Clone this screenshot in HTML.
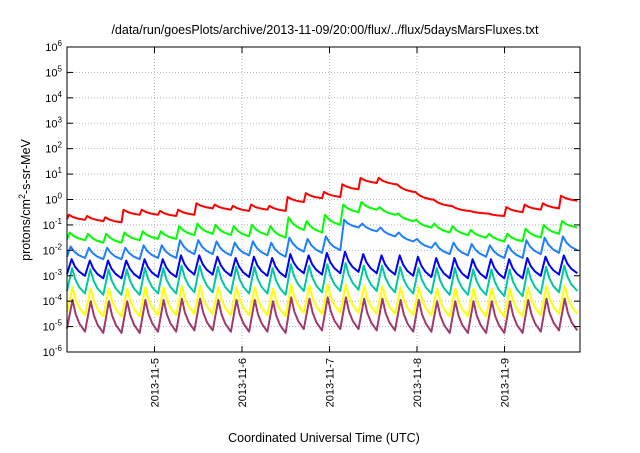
<!DOCTYPE html>
<html><head><meta charset="utf-8"><style>
body{margin:0;background:#fff;}
svg text{font-family:"Liberation Sans",sans-serif;}
</style></head><body>
<svg id="chart" width="640" height="448" viewBox="0 0 640 448">
<rect width="640" height="448" fill="#fff"/>
<text x="325" y="34" font-size="12.5" text-anchor="middle">/data/run/goesPlots/archive/2013-11-09/20:00/flux/../flux/5daysMarsFluxes.txt</text>
<g id="grid"></g><g id="series"></g><g id="axes"></g>
<text x="324" y="442" font-size="12.5" text-anchor="middle">Coordinated Universal Time (UTC)</text>
<text transform="translate(30,200) rotate(-90)" font-size="12.5" text-anchor="middle">protons/cm<tspan font-size="9" dy="-5">2</tspan><tspan dy="5">-s-sr-MeV</tspan></text>
</svg>
<script>
const dayLabels=["2013-11-5","2013-11-6","2013-11-7","2013-11-8","2013-11-9"];
const dayHours=[24,48,72,96,120];
const yTicks=[-6,-5,-4,-3,-2,-1,0,1,2,3,4,5,6];
const cycleStartHours=[0,5,10,15,20,25,30,35,40,45,50,55,60,65,70,75,80,85,90,95,100,105,110,115,120,125,130,135,140];
const redPeaks=[-0.6,-0.65,-0.7,-0.4,-0.4,-0.45,-0.4,-0.15,-0.2,-0.25,-0.2,-0.25,0.1,0.25,0.3,0.6,0.85,0.85,0.6,0.3,0.0,-0.25,-0.45,-0.55,-0.3,-0.2,-0.15,0.15];
const redTroughs=[-0.8,-0.85,-0.9,-0.6,-0.6,-0.65,-0.6,-0.35,-0.4,-0.45,-0.4,-0.45,-0.1,0.05,0.1,0.4,0.65,0.6,0.3,0.0,-0.25,-0.45,-0.55,-0.65,-0.5,-0.4,-0.35,-0.05];
const greenPeaks=[-1.3,-1.35,-1.35,-1.3,-1.25,-1.25,-1.05,-0.95,-1.0,-1.05,-1.0,-1.05,-0.7,-0.85,-0.6,-0.2,-0.1,-0.3,-0.55,-0.8,-0.95,-1.05,-1.2,-1.35,-1.35,-1.15,-1.0,-0.85];
const greenTroughs=[-1.6,-1.7,-1.7,-1.6,-1.55,-1.55,-1.4,-1.35,-1.4,-1.45,-1.4,-1.5,-1.2,-1.3,-1.0,-0.5,-0.4,-0.6,-0.85,-1.1,-1.3,-1.4,-1.5,-1.65,-1.65,-1.5,-1.35,-1.1];
const ltbluePeaks=[-1.85,-1.9,-1.9,-1.9,-1.8,-1.8,-1.6,-1.6,-1.65,-1.7,-1.65,-1.7,-1.5,-1.55,-1.45,-0.8,-0.95,-1.1,-1.3,-1.55,-1.7,-1.7,-1.75,-1.8,-1.8,-1.6,-1.5,-1.45];
const ltblueTroughs=[-2.3,-2.35,-2.35,-2.35,-2.3,-2.3,-2.15,-2.15,-2.2,-2.2,-2.2,-2.25,-2.05,-2.1,-2.0,-1.1,-1.25,-1.45,-1.65,-1.9,-2.15,-2.2,-2.25,-2.3,-2.3,-2.15,-2.1,-2.0];
const bluePeaks=[-2.35,-2.4,-2.4,-2.4,-2.35,-2.35,-2.2,-2.2,-2.25,-2.3,-2.25,-2.3,-2.15,-2.2,-2.1,-2.05,-2.15,-2.2,-2.2,-2.25,-2.3,-2.3,-2.35,-2.35,-2.35,-2.3,-2.25,-2.2];
const blueTroughs=[-3.0,-3.1,-3.1,-3.1,-3.05,-3.05,-2.95,-2.95,-3.0,-3.05,-3.0,-3.05,-2.9,-2.95,-2.9,-2.85,-2.9,-2.95,-3.0,-3.05,-3.1,-3.1,-3.1,-3.1,-3.1,-3.0,-2.95,-2.9];
const cyanPeaks=[-2.7,-2.75,-2.75,-2.75,-2.7,-2.7,-2.6,-2.6,-2.65,-2.65,-2.65,-2.7,-2.55,-2.6,-2.55,-2.5,-2.6,-2.6,-2.65,-2.7,-2.7,-2.7,-2.75,-2.75,-2.75,-2.7,-2.65,-2.6];
const cyanTroughs=[-3.7,-3.75,-3.75,-3.75,-3.7,-3.7,-3.65,-3.65,-3.7,-3.7,-3.7,-3.75,-3.6,-3.65,-3.6,-3.55,-3.6,-3.65,-3.7,-3.7,-3.75,-3.75,-3.75,-3.8,-3.8,-3.7,-3.65,-3.6];
const yellowPeaks=[-3.45,-3.5,-3.5,-3.5,-3.45,-3.45,-3.4,-3.4,-3.45,-3.45,-3.45,-3.5,-3.35,-3.4,-3.35,-3.35,-3.4,-3.4,-3.45,-3.45,-3.5,-3.5,-3.5,-3.5,-3.5,-3.45,-3.4,-3.4];
const yellowTroughs=[-4.55,-4.6,-4.6,-4.6,-4.55,-4.55,-4.5,-4.5,-4.55,-4.55,-4.55,-4.6,-4.45,-4.5,-4.45,-4.45,-4.5,-4.5,-4.55,-4.55,-4.6,-4.6,-4.6,-4.6,-4.6,-4.55,-4.5,-4.5];
const purplePeaks=[-3.95,-4.0,-4.0,-4.0,-3.95,-3.95,-3.9,-3.9,-3.95,-3.95,-3.95,-4.0,-3.85,-3.9,-3.85,-3.85,-3.9,-3.9,-3.95,-3.95,-4.0,-4.0,-4.0,-4.0,-4.0,-3.95,-3.9,-3.9];
const purpleTroughs=[-5.2,-5.25,-5.25,-5.25,-5.2,-5.2,-5.15,-5.15,-5.2,-5.2,-5.2,-5.25,-5.1,-5.15,-5.1,-5.1,-5.15,-5.15,-5.2,-5.2,-5.25,-5.25,-5.25,-5.25,-5.25,-5.2,-5.15,-5.15];

const L=67,R=580,T=47,B=352,H0=0,H1=140.7;
const xS=h=>L+(h-H0)/(H1-H0)*(R-L);
const yS=lv=>B-(lv+6)/12*(B-T);
const NS="http://www.w3.org/2000/svg";
function mk(tag,attrs,parent){const e=document.createElementNS(NS,tag);for(const k in attrs)e.setAttribute(k,attrs[k]);parent.appendChild(e);return e;}
const grid=document.getElementById('grid'),axes=document.getElementById('axes'),ser=document.getElementById('series');
yTicks.forEach(t=>{
  const y=yS(t);
  if(t>-6&&t<6){const g=mk('line',{x1:L,x2:R,y1:y,y2:y,stroke:'#aaa','stroke-width':0.8,'stroke-dasharray':'1,2'},grid);
  
  }
  mk('line',{x1:L,x2:L+6,y1:y,y2:y,stroke:'#000'},axes);
  mk('line',{x1:R,x2:R-6,y1:y,y2:y,stroke:'#000'},axes);
  const tx=mk('text',{x:L-5,y:y+4,'font-size':11,'text-anchor':'end'},axes);
  
  
  tx.innerHTML='10<tspan font-size="8" dy="-5">'+t+'</tspan>';
});
dayHours.forEach((h,i)=>{
  const x=xS(h);
  const g=mk('line',{x1:x,x2:x,y1:T,y2:B,stroke:'#aaa','stroke-width':0.8,'stroke-dasharray':'1,2'},grid);
  
  
  mk('line',{x1:x,x2:x,y1:B,y2:B-6,stroke:'#000'},axes);
  mk('line',{x1:x,x2:x,y1:T,y2:T+6,stroke:'#000'},axes);
  const tx=mk('text',{transform:`translate(${x+4},${B+6}) rotate(-90)`,'font-size':11,'text-anchor':'end'},axes);
  
  
  tx.textContent=dayLabels[i];
});
const frame=mk('rect',{x:L,y:T,width:R-L,height:B-T,fill:'none',stroke:'#000','stroke-width':1},axes);


const series=[
 ['purple-series','#a03a6e',purplePeaks,purpleTroughs,0.3],
 ['yellow-series','#ffff00',yellowPeaks,yellowTroughs,0.3],
 ['cyan-series','#00c8a0',cyanPeaks,cyanTroughs,0.28],
 ['blue-series','#0000ff',bluePeaks,blueTroughs,0.25],
 ['lightblue-series','#1e7fff',ltbluePeaks,ltblueTroughs,0.2],
 ['green-series','#00ff00',greenPeaks,greenTroughs,0.15],
 ['red-series','#ff0000',redPeaks,redTroughs,0.1]];
series.forEach(([name,col,pk,tr,rise])=>{
  let d='';
  for(let i=0;i<pk.length;i++){
    const h0=cycleStartHours[i],h1=cycleStartHours[i+1];
    const span=h1-h0,diff=pk[i]-tr[i];
    const hp=h0+span*rise;
    const rest=h1-hp;
    const pts=[[hp,pk[i]],[hp+rest*0.25,tr[i]+diff*0.55],[hp+rest*0.55,tr[i]+diff*0.25],[h1-0.05,tr[i]]];
    if(i===0)d+='M'+xS(h0).toFixed(1)+','+yS(tr[0]+diff*0.1).toFixed(1);
    pts.forEach(p=>{d+='L'+xS(p[0]).toFixed(1)+','+yS(p[1]).toFixed(1);});
  }
  const p=mk('path',{d:d,fill:'none',stroke:col,'stroke-width':2,'stroke-linejoin':'round'},ser);
  
  
});
</script>
</body></html>
